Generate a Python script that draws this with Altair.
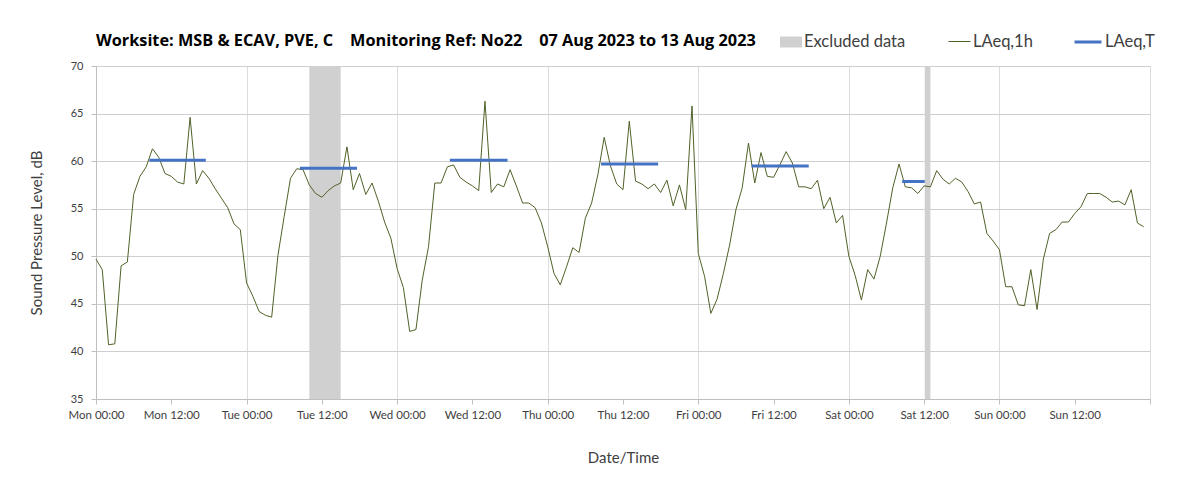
import altair as alt
import pandas as pd

# ---- data ----
hours = list(range(168))
laeq_1h = [
    49.7, 48.6, 40.7, 40.8, 49.0, 49.4, 56.5, 58.4, 59.4, 61.3, 60.4, 58.7,
    58.4, 57.8, 57.6, 64.6, 57.6, 59.0, 58.2, 57.1, 56.1, 55.1, 53.4, 52.8,
    47.2, 45.8, 44.2, 43.8, 43.6, 50.1, 54.2, 58.2, 59.2, 59.1, 57.5, 56.6,
    56.2, 56.9, 57.4, 57.7, 61.5, 57.0, 58.7, 56.5, 57.7, 55.8, 53.6, 51.9,
    48.7, 46.7, 42.1, 42.3, 47.5, 51.0, 57.7, 57.7, 59.4, 59.6, 58.3, 57.8,
    57.4, 56.9, 66.3, 56.7, 57.6, 57.3, 59.1, 57.4, 55.6, 55.6, 55.1, 53.5,
    51.0, 48.2, 47.0, 48.9, 50.9, 50.4, 54.0, 55.6, 58.6, 62.5, 59.5, 57.6,
    57.0, 64.2, 57.9, 57.6, 57.1, 57.6, 56.7, 58.0, 55.3, 57.5, 54.9, 65.8,
    50.3, 47.9, 44.0, 45.5, 48.2, 51.2, 54.9, 57.2, 61.9, 57.7, 60.9, 58.4,
    58.3, 59.6, 61.0, 59.8, 57.3, 57.3, 57.1, 58.0, 55.0, 56.2, 53.5, 54.3,
    50.0, 48.0, 45.4, 48.6, 47.6, 50.0, 53.5, 57.2, 59.7, 57.3, 57.2, 56.6,
    57.4, 57.3, 59.0, 58.1, 57.6, 58.2, 57.8, 56.8, 55.5, 55.7, 52.4, 51.6,
    50.7, 46.8, 46.8, 44.9, 44.8, 48.6, 44.4, 49.7, 52.4, 52.8, 53.6, 53.6,
    54.5, 55.2, 56.6, 56.6, 56.6, 56.2, 55.7, 55.8, 55.4, 57.0, 53.5, 53.1,
]

laeq_t_start = [8.5, 32.5, 56.4, 80.5, 104.5, 128.5]
laeq_t_end = [17.5, 41.6, 65.6, 89.6, 113.6, 132.1]
laeq_t_value = [60.1, 59.25, 60.1, 59.7, 59.5, 57.85]

excluded_start = [34.0, 132.1]
excluded_end = [39.0, 133.0]

day_names = ["Mon", "Tue", "Wed", "Thu", "Fri", "Sat", "Sun"]
tick_hours = list(range(0, 169, 12))
y_ticks = [35, 40, 45, 50, 55, 60, 65, 70]

GAP = "\u00a0" * 4
title_text = ("Worksite: MSB & ECAV, PVE, C" + GAP + "Monitoring Ref: No22"
              + GAP + "07 Aug 2023 to 13 Aug 2023")

FONT = "Lato"
TITLE_FONT = "Open Sans"

line_df = pd.DataFrame({"hour": hours, "level": laeq_1h, "label": "LAeq,1h"})
t_df = pd.DataFrame({"start": laeq_t_start, "end": laeq_t_end,
                     "level": laeq_t_value, "label": "LAeq,T"})
ex_df = pd.DataFrame({"start": excluded_start, "end": excluded_end,
                      "label": "Excluded data"})

days_js = "[" + ",".join(f"'{d}'" for d in day_names) + "]"
label_expr = (f"datum.value >= 168 ? '' : {days_js}[floor(datum.value/24)] + "
              "(datum.value % 24 == 0 ? ' 00:00' : ' 12:00')")

x_scale = alt.Scale(domain=[0, 168], nice=False, zero=False)
y_scale = alt.Scale(domain=[35, 70], nice=False, zero=False)

x_axis = alt.Axis(
    values=tick_hours, labelExpr=label_expr, title="Date/Time",
    grid=True,
    gridOpacity={"condition": {"test": "datum.value % 24 == 0 && datum.value > 0 && datum.value < 168",
                               "value": 1}, "value": 0},
    gridColor="#DDDDDD", labelFontSize=11.5, labelColor="#404040",
    labelFont=FONT, labelPadding=5, tickSize=5, tickColor="#BFBFBF",
    domainColor="#BFBFBF", titleFont=FONT, titleFontSize=15,
    titleFontWeight="normal", titleColor="#404040", titlePadding=30,
    labelFlush=False,
)
y_axis = alt.Axis(
    values=y_ticks, title="Sound Pressure Level, dB", grid=True,
    gridColor="#CFCFCF", labelFontSize=11, labelColor="#404040",
    labelFont=FONT, labelPadding=8, tickSize=5, tickColor="#BFBFBF",
    domainColor="#BFBFBF", titleFont=FONT, titleFontSize=15,
    titleFontWeight="normal", titleColor="#404040", titlePadding=26,
)

leg_common = dict(orient="none", title=None, labelFont=FONT, labelFontSize=16.5,
                  labelColor="#404040", padding=0, labelOffset=2)

bands = alt.Chart(ex_df).mark_rect(opacity=1).encode(
    x=alt.X("start:Q", scale=x_scale, axis=x_axis),
    x2="end:Q",
    y=alt.value(0),
    y2=alt.value(333),
    fill=alt.Fill("label:N",
                  scale=alt.Scale(domain=["Excluded data"], range=["#D0D0D0"]),
                  legend=alt.Legend(symbolType="M-1,-0.5H1V0.5H-1Z", symbolSize=484,
                                    symbolStrokeWidth=0,
                                    legendX=684, legendY=-35, **leg_common)),
)

line = alt.Chart(line_df).mark_line(strokeWidth=1).encode(
    x=alt.X("hour:Q", scale=x_scale, axis=x_axis),
    y=alt.Y("level:Q", scale=y_scale, axis=y_axis),
    stroke=alt.Stroke("label:N",
                      scale=alt.Scale(domain=["LAeq,1h"], range=["#4F6228"]),
                      legend=alt.Legend(symbolType="stroke", symbolSize=484,
                                        symbolStrokeWidth=1,
                                        legendX=852, legendY=-36, **leg_common)),
)

blue = alt.Chart(t_df).mark_rule(color="#4472C4", strokeWidth=3).encode(
    x=alt.X("start:Q", scale=x_scale, axis=x_axis),
    x2="end:Q",
    y=alt.Y("level:Q", scale=y_scale, axis=y_axis),
    strokeDash=alt.StrokeDash("label:N",
                              scale=alt.Scale(domain=["LAeq,T"], range=[[1, 0]]),
                              legend=alt.Legend(symbolType="stroke", symbolSize=729,
                                                symbolStrokeWidth=3,
                                                symbolStrokeColor="#4472C4",
                                                legendX=977, legendY=-39,
                                                **leg_common)),
)

chart = alt.layer(bands, line, blue).properties(
    width=1054, height=333,
    autosize=alt.AutoSizeParams(type="none"),
    padding={"left": 88, "top": 58, "right": 45, "bottom": 80},
    title=alt.Title(title_text, anchor="start", frame="group", font=TITLE_FONT,
                    fontSize=16.3, fontWeight="bold", color="#000000", offset=18,
                    dy=40),
).configure_view(stroke="#BFBFBF", strokeWidth=1).configure(background="white")

chart.save("out.html", embed_options={"renderer": "svg", "actions": False})
